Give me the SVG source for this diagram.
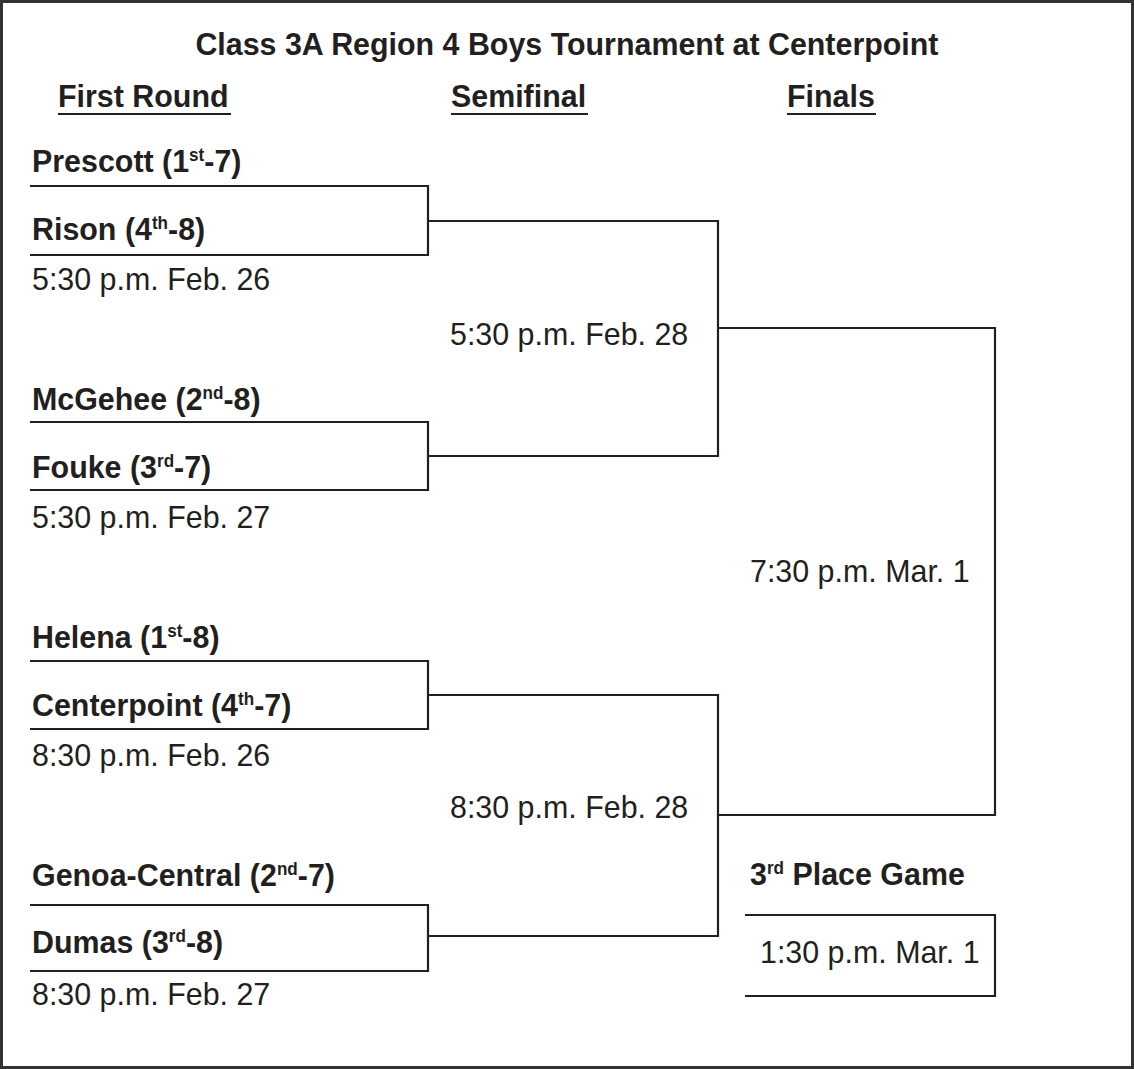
<svg xmlns="http://www.w3.org/2000/svg" width="1134" height="1069" viewBox="0 0 1134 1069">
<style>
.b{font-family:"Liberation Sans",Arial,sans-serif;font-weight:bold;font-size:32px;fill:#231f20}
.r{font-family:"Liberation Sans",Arial,sans-serif;font-size:32px;fill:#231f20}
.s{font-size:18px}
line,polyline{stroke:#231f20;stroke-width:2.2;fill:none}
</style>
<rect x="1.5" y="1.5" width="1131" height="1066" fill="#fff" stroke="#333" stroke-width="3"/>
<g id="connectors">
<polyline points="30,186 428,186 428,255 30,255"/>
<polyline points="30,422 428,422 428,490 30,490"/>
<polyline points="30,661 428,661 428,729 30,729"/>
<polyline points="30,905 428,905 428,971 30,971"/>
<polyline points="428,221 718,221 718,456 428,456"/>
<polyline points="428,695 718,695 718,936 428,936"/>
<polyline points="718,328 995,328 995,815 718,815"/>
<polyline points="745,915 995,915 995,996 745,996"/>
<line x1="58" y1="114" x2="231" y2="114"/>
<line x1="451" y1="114" x2="588" y2="114"/>
<line x1="787" y1="114" x2="876" y2="114"/>
</g>
<g transform="scale(0.95,1)">
<g id="title"><text class="b" x="596.8" y="55" text-anchor="middle">Class 3A Region 4 Boys Tournament at Centerpoint</text></g>
<g id="headers">
<text class="b" x="61.1" y="107">First Round</text>
<text class="b" x="474.7" y="107">Semifinal</text>
<text class="b" x="828.4" y="107">Finals</text>
</g>
<g id="m1">
<text class="b" x="33.7" y="172">Prescott (1<tspan class="s" dy="-11">st</tspan><tspan dy="11">-7)</tspan></text>
<text class="b" x="33.7" y="240">Rison (4<tspan class="s" dy="-11">th</tspan><tspan dy="11">-8)</tspan></text>
<text class="r" x="33.7" y="290">5:30 p.m. Feb. 26</text>
</g>
<g id="m2">
<text class="b" x="33.7" y="410">McGehee (2<tspan class="s" dy="-11">nd</tspan><tspan dy="11">-8)</tspan></text>
<text class="b" x="33.7" y="478">Fouke (3<tspan class="s" dy="-11">rd</tspan><tspan dy="11">-7)</tspan></text>
<text class="r" x="33.7" y="528">5:30 p.m. Feb. 27</text>
</g>
<g id="m3">
<text class="b" x="33.7" y="648">Helena (1<tspan class="s" dy="-11">st</tspan><tspan dy="11">-8)</tspan></text>
<text class="b" x="33.7" y="716">Centerpoint (4<tspan class="s" dy="-11">th</tspan><tspan dy="11">-7)</tspan></text>
<text class="r" x="33.7" y="766">8:30 p.m. Feb. 26</text>
</g>
<g id="m4">
<text class="b" x="33.7" y="886">Genoa-Central (2<tspan class="s" dy="-11">nd</tspan><tspan dy="11">-7)</tspan></text>
<text class="b" x="33.7" y="953">Dumas (3<tspan class="s" dy="-11">rd</tspan><tspan dy="11">-8)</tspan></text>
<text class="r" x="33.7" y="1005">8:30 p.m. Feb. 27</text>
</g>
<g id="semi1"><text class="r" x="473.7" y="345">5:30 p.m. Feb. 28</text></g>
<g id="semi2"><text class="r" x="473.7" y="818">8:30 p.m. Feb. 28</text></g>
<g id="final"><text class="r" x="789.5" y="582">7:30 p.m. Mar. 1</text></g>
<g id="third">
<text class="b" x="789.5" y="885">3<tspan class="s" dy="-11">rd</tspan><tspan dy="11"> Place Game</tspan></text>
<text class="r" x="800" y="963">1:30 p.m. Mar. 1</text>
</g>
</g>
</svg>
